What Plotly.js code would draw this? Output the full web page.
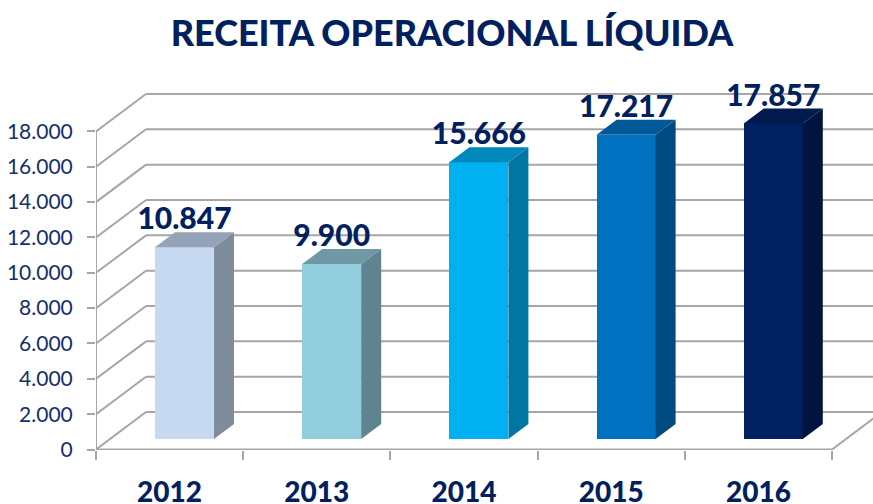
<!DOCTYPE html>
<html>
<head>
<meta charset="utf-8">
<script src="https://cdn.plot.ly/plotly-3.0.1.min.js"></script>
<style>html,body{margin:0;padding:0;background:#fff}#c{width:873px;height:504px}</style>
</head>
<body>
<div id="c"></div>
<script>
const titleText = "RECEITA OPERACIONAL LÍQUIDA";
const categories = ["2012", "2013", "2014", "2015", "2016"];
const values = [10847, 9900, 15666, 17217, 17857];
const valueLabels = ["10.847", "9.900", "15.666", "17.217", "17.857"];
const yTicks = [0, 2000, 4000, 6000, 8000, 10000, 12000, 14000, 16000, 18000];
const yTickLabels = ["0", "2.000", "4.000", "6.000", "8.000", "10.000", "12.000", "14.000", "16.000", "18.000"];
const frontColors = ["#C6D9F1", "#92CDDC", "#00B0F0", "#0070C0", "#002060"];
const sideColors = ["#7F8C9A", "#5F8490", "#0076A3", "#004A80", "#001440"];
const topColors = ["#94A3B7", "#6F98A5", "#0088BA", "#005A9A", "#001A4D"];

// oblique projection constants, expressed in axis units
const pxPerCat = 147.2, pxPerVal = 318.5 / 18000;
const wallDx = 50 / pxPerCat, wallDy = 37.5 / pxPerVal;
const barDx = 14.9 / pxPerCat, barDy = 10.5 / pxPerVal;
const barW = 59 / pxPerCat;
const depthDx = 20 / pxPerCat, depthDy = 15 / pxPerVal;
const labelDy = 36 / pxPerVal;
const xMax = 777 / pxPerCat;
const gridColor = "#A6A6A6";
const navy = "#002060";

const centers = categories.map((_, i) => i + 0.5);
const barX = centers.map(c => c + barDx);

const shapes = [];
const line = (x0, y0, x1, y1) => shapes.push({
  type: "line", layer: "below", xref: "x", yref: "y", x0, y0, x1, y1,
  line: {color: gridColor, width: 2}
});
yTicks.forEach(v => {
  line(0, v, wallDx, v + wallDy);
  line(wallDx, v + wallDy, xMax + 1, v + wallDy);
});
line(categories.length, 0, categories.length + wallDx, wallDy);

const traces = [];
traces.push({
  type: "bar", x: barX, y: values, base: values.map(() => barDy), width: barW,
  marker: {color: frontColors, line: {width: 0}}, hoverinfo: "skip"
});
values.forEach((v, i) => {
  const l = barX[i] - barW / 2, r = barX[i] + barW / 2, t = v + barDy, b = barDy;
  traces.push({
    type: "scatter", mode: "lines", fill: "toself", fillcolor: sideColors[i],
    x: [r, r + depthDx, r + depthDx, r, r],
    y: [b, b + depthDy, t + depthDy, t, b],
    line: {width: 0, color: sideColors[i]}, hoverinfo: "skip"
  });
  traces.push({
    type: "scatter", mode: "lines", fill: "toself", fillcolor: topColors[i],
    x: [l, r, r + depthDx, l + depthDx, l],
    y: [t, t, t + depthDy, t + depthDy, t],
    line: {width: 0, color: topColors[i]}, hoverinfo: "skip"
  });
});
// axis lines stop at the last tick
traces.push({
  type: "scatter", mode: "lines", x: [0, 0], y: [0, 18000], cliponaxis: false,
  line: {color: gridColor, width: 2}, hoverinfo: "skip"
});
traces.push({
  type: "scatter", mode: "lines", x: [0, categories.length], y: [0, 0], cliponaxis: false,
  line: {color: gridColor, width: 2}, hoverinfo: "skip"
});
traces.push({
  type: "scatter", mode: "text", x: barX, y: values.map(v => v + labelDy), text: valueLabels,
  textposition: "middle center", cliponaxis: false,
  textfont: {family: "Lato, Carlito, sans-serif", size: 30, color: navy, weight: 900},
  hoverinfo: "skip"
});

const layout = {
  width: 873, height: 504, autosize: false, showlegend: false, bargap: 0,
  paper_bgcolor: "#fff", plot_bgcolor: "rgba(0,0,0,0)",
  margin: {l: 96, r: 0, t: 70, b: 54, pad: 0},
  title: {
    text: titleText, x: 452 / 873, xanchor: "center", y: 1 - 33 / 504, yanchor: "middle",
    font: {family: "Lato, Carlito, sans-serif", size: 36, color: navy, weight: 900}
  },
  xaxis: {
    range: [0, xMax], tickmode: "array", tickvals: centers, ticktext: categories,
    ticks: "outside", ticklen: 17, tickcolor: "rgba(0,0,0,0)", tickwidth: 1,
    showgrid: false, zeroline: false, showline: false,
    tickfont: {family: "Lato, Carlito, sans-serif", size: 28, color: navy, weight: 900},
    minor: {tickmode: "array", tickvals: categories.map((_, i) => i).concat(categories.length),
            ticks: "outside", ticklen: 9, tickwidth: 2, tickcolor: gridColor, showgrid: false}
  },
  yaxis: {
    range: [-28, 380 / pxPerVal], tickmode: "array", tickvals: yTicks, ticktext: yTickLabels,
    ticks: "outside", ticklen: 8, tickwidth: 2, tickcolor: gridColor,
    ticklabelstandoff: 10, showgrid: false, zeroline: false, showline: false,
    tickfont: {family: "Lato, Carlito, sans-serif", size: 21, color: "#14306B"}
  },
  shapes
};
Plotly.newPlot("c", traces, layout, {displayModeBar: false, staticPlot: true});
</script>
</body>
</html>
